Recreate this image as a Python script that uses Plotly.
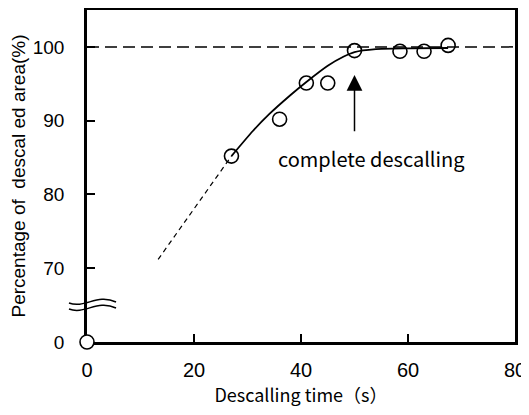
import plotly.graph_objects as go

# ---- data ----
time_s = [0, 27, 36, 41, 45, 50, 58.5, 63, 67.5]
descaled_pct = [0, 85.2, 90.2, 95.1, 95.1, 99.5, 99.4, 99.4, 100.2]

fit_time = [27, 31, 34, 38, 41, 45, 48, 50, 54, 60, 67.5]
fit_pct = [85.2, 88.6, 90.85, 93.45, 95.25, 97.45, 98.7, 99.3, 99.7, 99.8, 99.85]

extrap_time = [13.3, 27]
extrap_pct = [71.2, 85.2]

complete_time = 50
complete_pct = 100

x_ticks = [0, 20, 40, 60, 80]
y_tickvals = [60, 70, 80, 90, 100]
y_ticktext = ["0", "70", "80", "90", "100"]

BREAK_BASE = 60  # value 0 is drawn at the axis break base
Y_RANGE = [60, 105]
X_RANGE = [0, 80]

disp_pct = [v if v >= BREAK_BASE else BREAK_BASE for v in descaled_pct]

fig = go.Figure()

# reference 100% dashed line
fig.add_trace(go.Scatter(x=X_RANGE, y=[complete_pct, complete_pct], mode="lines",
                         line=dict(color="black", width=1.5, dash="12px,6px"),
                         hoverinfo="skip", showlegend=False))
# extrapolated dashed part
fig.add_trace(go.Scatter(x=extrap_time, y=extrap_pct, mode="lines",
                         line=dict(color="black", width=1.2, dash="5px,4px"),
                         showlegend=False))
# fitted curve
fig.add_trace(go.Scatter(x=fit_time, y=fit_pct, mode="lines",
                         line=dict(color="black", width=1.8, shape="spline", smoothing=0.6),
                         showlegend=False))
# measured points (open circles)
fig.add_trace(go.Scatter(x=time_s[1:], y=disp_pct[1:], mode="markers",
                         marker=dict(symbol="circle-open", size=14, color="black",
                                     line=dict(width=1.6, color="black")),
                         cliponaxis=False, showlegend=False))
# origin point (white filled, covering the axes)
fig.add_trace(go.Scatter(x=time_s[:1], y=disp_pct[:1], mode="markers",
                         marker=dict(symbol="circle", size=14, color="white",
                                     line=dict(width=1.6, color="black")),
                         cliponaxis=False, showlegend=False))

# arrow for complete descalling
fig.add_annotation(x=complete_time, y=96.2, ax=complete_time, ay=88.35,
                   xref="x", yref="y", axref="x", ayref="y", text="",
                   showarrow=True, arrowhead=2, arrowsize=2.1, arrowwidth=1.5,
                   arrowcolor="black")
fig.add_annotation(x=53.1, y=84.9, xref="x", yref="y", text="complete descalling",
                   showarrow=False,
                   font=dict(family="Noto Sans CJK JP", size=20, color="black"))

# axis-break marks (two wavy lines across the y axis), in plot-area fractions
W, H, L, B = 428, 332, 87, 342
def px(xp):
    return (xp - L) / W
def py(yp):
    return (B - yp) / H
for off in (0, 6):
    path = (f"M {px(69):.4f},{py(303+off):.4f} "
            f"C {px(85):.4f},{py(309+off):.4f} {px(97):.4f},{py(293+off):.4f} "
            f"{px(116):.4f},{py(302+off):.4f}")
    fig.add_shape(type="path", path=path, xref="paper", yref="paper",
                  line=dict(color="black", width=1.5))

# page body has an 8px margin, so the figure is shrunk/shifted to compensate
fig.update_layout(
    width=521, height=399,
    margin=dict(l=79, r=14, t=2, b=65),
    paper_bgcolor="white", plot_bgcolor="white",
    font=dict(family="Liberation Sans", color="black"),
)
fig.update_xaxes(range=X_RANGE, tickvals=x_ticks, ticks="inside", ticklen=8,
                 tickwidth=1.5, tickcolor="black", showline=True, linewidth=2.5,
                 linecolor="black", mirror=True, showgrid=False, zeroline=False,
                 tickfont=dict(family="Liberation Sans", size=20),
                 ticklabelstandoff=8, ticklabeloverflow="allow",
                 layer="below traces", automargin=False,
                 title=dict(text="Descalling time（s）", standoff=4,
                            font=dict(family="Noto Sans CJK JP", size=18)))
fig.update_yaxes(range=Y_RANGE, tickvals=y_tickvals, ticktext=y_ticktext,
                 ticks="inside", ticklen=8, tickwidth=1.5, tickcolor="black",
                 showline=True, linewidth=2.5, linecolor="black", mirror=True,
                 showgrid=False, zeroline=False,
                 tickfont=dict(family="Liberation Sans", size=19),
                 ticklabelstandoff=16, layer="below traces", automargin=False,
                 title=dict(text="Percentage of  descal ed area(%)", standoff=4,
                            font=dict(family="Liberation Sans", size=19)))

fig.write_html("out.html")
